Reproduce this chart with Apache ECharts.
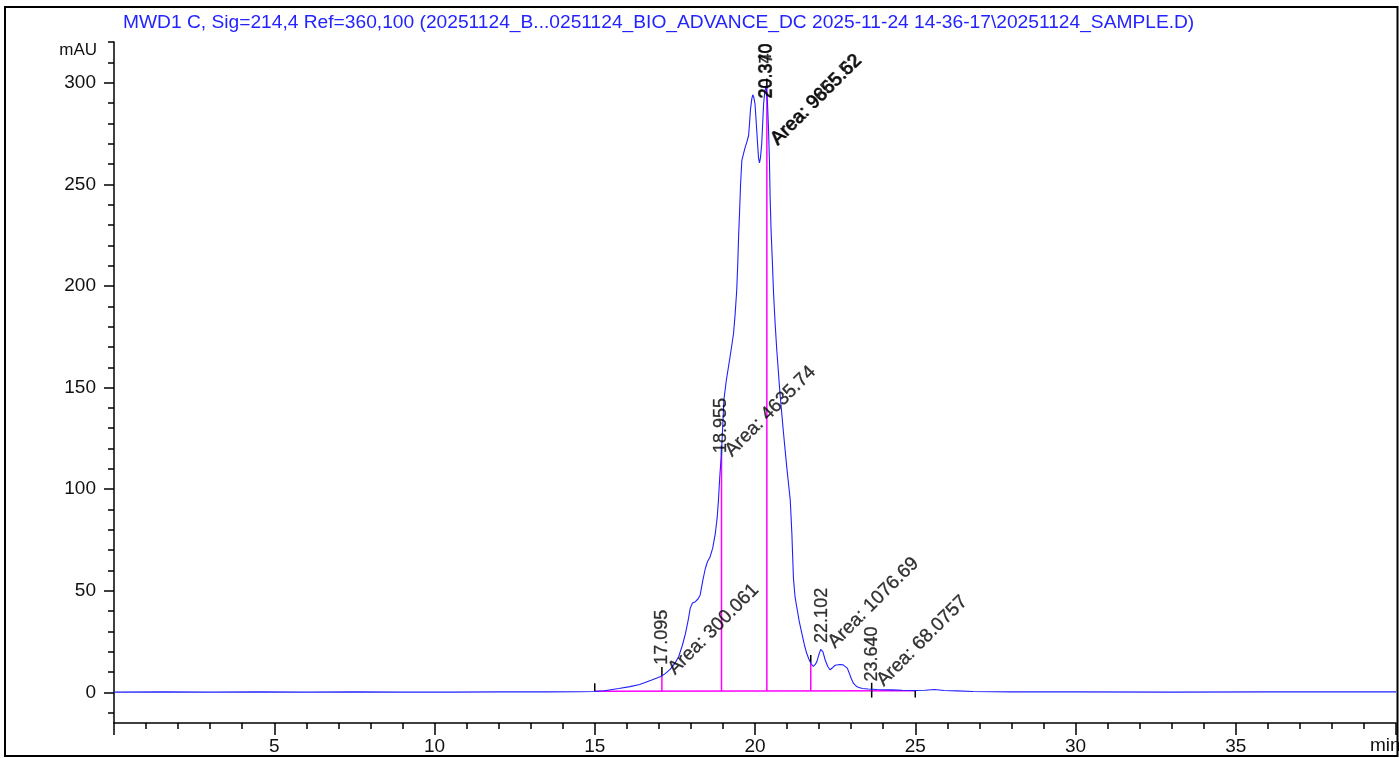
<!DOCTYPE html>
<html><head><meta charset="utf-8">
<script src="https://cdn.jsdelivr.net/npm/echarts@6.0.0/dist/echarts.min.js"></script>
<style>html,body{margin:0;padding:0;background:#fff}#c{width:1399px;height:758px}</style>
</head><body><div id="c"></div>
<script>
const titleText = 'MWD1 C, Sig=214,4 Ref=360,100 (20251124_B...0251124_BIO_ADVANCE_DC 2025-11-24 14-36-17\\20251124_SAMPLE.D)';
const yUnit = 'mAU';
const xUnit = 'min';
const yMajorTicks = [0, 50, 100, 150, 200, 250, 300];
const yMinorTicks = [-10, 10, 20, 30, 40, 60, 70, 80, 90, 110, 120, 130, 140, 160, 170, 180, 190, 210, 220, 230, 240, 260, 270, 280, 290, 310, 320];

// chromatogram trace (time in min, signal in mAU)
const timeMin = [0, 1.5, 3, 4.5, 6, 7.5, 9, 10.5, 12, 13.5, 14.5, 15.0, 15.3, 15.75, 16.1, 16.4, 16.78, 17.06, 17.2, 17.36, 17.5, 17.62, 17.73, 17.83, 17.92, 17.98, 18.05, 18.14, 18.22, 18.29, 18.37, 18.45, 18.52, 18.6, 18.68, 18.76, 18.82, 18.86, 18.9, 18.95, 18.99, 19.03, 19.1, 19.17, 19.25, 19.33, 19.38, 19.43, 19.46, 19.49, 19.52, 19.55, 19.59, 19.64, 19.69, 19.75, 19.8, 19.83, 19.86, 19.9, 19.93, 19.96, 20.0, 20.04, 20.08, 20.11, 20.14, 20.17, 20.21, 20.24, 20.27, 20.31, 20.35, 20.39, 20.42, 20.45, 20.47, 20.5, 20.54, 20.58, 20.63, 20.68, 20.78, 20.89, 20.99, 21.1, 21.15, 21.2, 21.25, 21.3, 21.38, 21.46, 21.54, 21.61, 21.68, 21.74, 21.82, 21.88, 21.93, 21.99, 22.05, 22.08, 22.12, 22.19, 22.27, 22.34, 22.42, 22.5, 22.65, 22.75, 22.81, 22.88, 22.93, 23.0, 23.07, 23.15, 23.22, 23.35, 23.53, 23.8, 24.25, 24.6, 25.0, 25.3, 25.6, 25.9, 26.3, 26.8, 28, 30, 33, 36, 40];
const signalMAU = [0.2, 0.3, 0.2, 0.3, 0.2, 0.3, 0.2, 0.2, 0.3, 0.3, 0.4, 0.5, 0.9, 2.0, 2.9, 3.9, 6.2, 7.9, 9.3, 11.5, 14.3, 17.7, 23, 29, 36, 41.5, 44, 44.7, 46, 48, 55, 61, 64.5, 66.8, 71, 78, 86, 94.7, 106, 117, 130, 144, 153, 160, 168, 176.6, 186, 198, 210, 225, 237, 250, 261.8, 265, 268, 271, 274, 280, 287, 292, 294, 293, 289.6, 280, 270, 263, 260.5, 263, 270, 280, 290, 296, 298.5, 290, 278, 262, 245, 228, 212.6, 196, 181, 168.4, 147, 127.5, 111, 94.7, 78.3, 56, 47, 42.3, 35, 29.2, 23.5, 19.4, 16.5, 14.4, 12.8, 13.8, 15.2, 18.5, 21.2, 21.8, 20, 16, 12.8, 11.2, 12.2, 13.4, 13.8, 13.6, 13.2, 12, 10, 7, 4.6, 3.2, 2.6, 2.0, 1.7, 1.5, 1.3, 1.1, 1.0, 1.1, 1.5, 1.0, 0.8, 0.5, 0.3, 0.3, 0.2, 0.3, 0.3];

// integration baseline and drop lines: [time, from mAU, to mAU]
const baselineT = [15.0, 25.0];
const baselineV = [0.6, 0.9];
const dropLines = [[17.095, 0.65, 7.9], [18.955, 0.7, 117], [20.37, 0.75, 297], [21.74, 0.8, 14.4]];
const tickMarks = [[15.0, 0.6, 4.5], [25.0, -2.5, 0.9], [23.64, -2.5, 4.8], [17.095, 7.9, 12.5], [18.955, 117, 121.5], [20.37, 297, 302], [21.74, 14.4, 18.5]];

// peak annotations
const rtText = ['17.095', '18.955', '20.340', '20.370', '22.102', '23.640'];
const rtX = [17.095, 18.955, 20.34, 20.37, 22.102, 23.64];
const rtY = [13.6, 117.8, 292.2, 292.2, 24.4, 5.4];
const areaText = ['Area: 300.061', 'Area: 4635.74', 'Area: 9655.52', 'Area: 9865.62', 'Area: 1076.69', 'Area: 68.0757'];
const areaX = [17.39, 19.17, 20.58, 20.61, 22.38, 23.90];
const areaY = [10.3, 117.6, 270.8, 270.8, 23.4, 4.6];

const FONT = '"Liberation Sans", Arial, sans-serif';
const chart = echarts.init(document.getElementById('c'));

function segSeries(name, segs, color, width) {
  return {
    type: 'custom', name: name, silent: true, z: 3,
    data: segs,
    renderItem: function (params, api) {
      const p0 = api.coord([api.value(0), api.value(1)]);
      const p1 = api.coord([api.value(0), api.value(2)]);
      return { type: 'line', shape: { x1: p0[0], y1: p0[1], x2: p1[0], y2: p1[1] },
               style: { stroke: color, lineWidth: width } };
    }
  };
}

const axisLineStyle = { color: '#000', width: 1.5 };

chart.setOption({
  animation: false,
  backgroundColor: '#fff',
  title: {
    text: titleText, left: 118, top: 8,
    textStyle: { color: '#2323ff', fontSize: 19.2, fontWeight: 'normal', fontFamily: FONT }
  },
  grid: { left: 114, right: 2, top: 42, bottom: 35 },
  xAxis: {
    type: 'value', min: 0, max: 40, interval: 5,
    axisLine: { show: true, onZero: false, lineStyle: axisLineStyle },
    axisTick: { show: true, inside: false, length: 12, lineStyle: axisLineStyle },
    minorTick: { show: true, splitNumber: 5, length: 6, lineStyle: axisLineStyle },
    splitLine: { show: false },
    axisLabel: { margin: 14, fontSize: 19, color: '#111', fontFamily: FONT,
      formatter: v => (v === 0 || v === 40) ? '' : String(v) }
  },
  yAxis: [{
    type: 'value', min: -15, max: 320,
    axisLine: { show: true, onZero: false, lineStyle: axisLineStyle },
    axisTick: { show: true, inside: false, length: 10, lineStyle: axisLineStyle, customValues: yMajorTicks },
    splitLine: { show: false },
    axisLabel: { margin: 18, fontSize: 19, color: '#111', fontFamily: FONT, customValues: yMajorTicks }
  }, {
    type: 'value', min: -15, max: 320, position: 'left',
    axisLine: { show: false },
    axisTick: { show: true, inside: false, length: 6, lineStyle: axisLineStyle, customValues: yMinorTicks },
    splitLine: { show: false },
    axisLabel: { show: false }
  }],
  graphic: [
    { type: 'rect', shape: { x: 5, y: 7, width: 1392.5, height: 749 },
      style: { fill: 'none', stroke: '#000', lineWidth: 2 }, z: 100, silent: true },
    { type: 'text', x: 97, y: 50, style: { text: yUnit, fill: '#111', font: '17px ' + FONT, align: 'right', verticalAlign: 'middle' } },
    { type: 'text', x: 1370, y: 746, style: { text: xUnit, fill: '#111', font: '19px ' + FONT, align: 'left', verticalAlign: 'middle' } }
  ],
  series: [
    { type: 'line', name: 'signal', data: timeMin.map((t, i) => [t, signalMAU[i]]),
      showSymbol: false, symbol: 'none', smooth: false, z: 4,
      lineStyle: { color: '#2020ff', width: 1.1 } },
    { type: 'line', name: 'baseline', data: baselineT.map((t, i) => [t, baselineV[i]]),
      showSymbol: false, symbol: 'none', z: 2,
      lineStyle: { color: '#ff00ff', width: 1.5 } },
    segSeries('drops', dropLines, '#ff00ff', 1.5),
    segSeries('ticks', tickMarks, '#000', 1.5),
    { type: 'scatter', name: 'rt', symbolSize: 0, z: 6, silent: true,
      data: rtX.map((x, i) => ({ value: [x, rtY[i]], name: rtText[i] })),
      label: { show: true, position: [0, 0], rotate: 90, align: 'left', verticalAlign: 'middle',
        formatter: '{b}', fontSize: 18, color: '#000', fontFamily: FONT,
        textBorderColor: '#000', textBorderWidth: 0.3 } },
    { type: 'scatter', name: 'area', symbolSize: 0, z: 6, silent: true,
      data: areaX.map((x, i) => ({ value: [x, areaY[i]], name: areaText[i] })),
      label: { show: true, position: [0, 0], rotate: 45, align: 'left', verticalAlign: 'middle',
        formatter: '{b}', fontSize: 19, color: '#000', fontFamily: FONT,
        textBorderColor: '#000', textBorderWidth: 0.3 } }
  ]
});
</script></body></html>
